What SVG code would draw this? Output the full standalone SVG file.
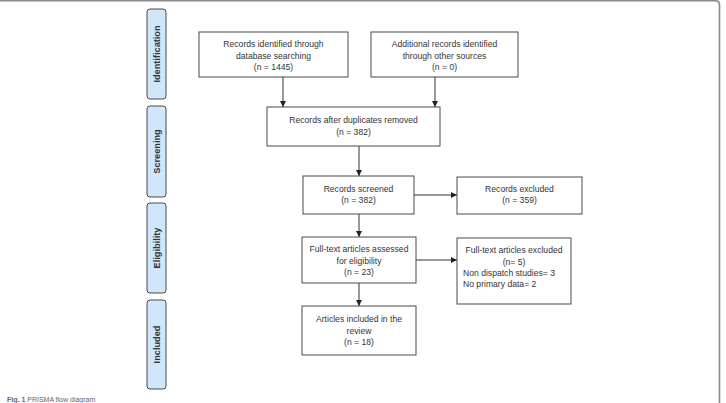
<svg xmlns="http://www.w3.org/2000/svg" width="726" height="403" viewBox="0 0 726 403">
<style>
  .box { fill: #ffffff; stroke: #4a4a4a; stroke-width: 1; }
  .side { fill: #cfe6fb; stroke: #4a4a4a; stroke-width: 1; }
  .t { font-family: "Liberation Sans", Arial, sans-serif; font-size: 8.6px; fill: #333333; text-anchor: middle; }
  .tl { font-family: "Liberation Sans", Arial, sans-serif; font-size: 8.6px; fill: #333333; text-anchor: start; }
  .st { font-family: "Liberation Sans", Arial, sans-serif; font-size: 9.2px; font-weight: bold; fill: #333333; text-anchor: middle; }
  .conn { stroke: #333333; stroke-width: 1; fill: none; marker-end: url(#arr); }
  .cap { font-family: "Liberation Sans", Arial, sans-serif; font-size: 7px; fill: #666666; }
</style>
<defs>
  <marker id="arr" viewBox="0 0 6 6" refX="6" refY="3" markerWidth="6" markerHeight="6" markerUnits="userSpaceOnUse" orient="auto">
    <path d="M0,0 L6,3 L0,6 z" fill="#222222"/>
  </marker>
</defs>
<rect width="726" height="403" fill="#ffffff"/>
<path d="M0,0.7 H715 Q719.5,0.7 719.5,5 V403" fill="none" stroke="#8a8a8a" stroke-width="1.6"/>

<g id="side-identification">
  <rect class="side" x="147" y="9" width="19" height="90" rx="3"/>
  <text class="st" transform="translate(159.8,54) rotate(-90)">Identification</text>
</g>
<g id="side-screening">
  <rect class="side" x="147" y="106" width="19" height="91" rx="3"/>
  <text class="st" transform="translate(159.8,151.5) rotate(-90)">Screening</text>
</g>
<g id="side-eligibility">
  <rect class="side" x="147" y="203" width="19" height="90" rx="3"/>
  <text class="st" transform="translate(159.8,248) rotate(-90)">Eligibility</text>
</g>
<g id="side-included">
  <rect class="side" x="147" y="300" width="19" height="89" rx="3"/>
  <text class="st" transform="translate(159.8,344.5) rotate(-90)">Included</text>
</g>

<g id="connectors">
  <line class="conn" x1="283" y1="77" x2="283" y2="107"/>
  <line class="conn" x1="435" y1="77" x2="435" y2="107"/>
  <line class="conn" x1="359" y1="146" x2="359" y2="176"/>
  <line class="conn" x1="414" y1="195" x2="457" y2="195"/>
  <line class="conn" x1="359" y1="214" x2="359" y2="237"/>
  <line class="conn" x1="416" y1="260" x2="457" y2="260"/>
  <line class="conn" x1="359" y1="283" x2="359" y2="306"/>
</g>

<g id="n-db">
  <rect class="box" x="199" y="32" width="149" height="45"/>
  <text class="t" x="273.5" y="47">Records identified through</text>
  <text class="t" x="273.5" y="58.5">database searching</text>
  <text class="t" x="273.5" y="70">(n = 1445)</text>
</g>
<g id="n-other">
  <rect class="box" x="371" y="32" width="147" height="45"/>
  <text class="t" x="444.5" y="47">Additional records identified</text>
  <text class="t" x="444.5" y="58.5">through other sources</text>
  <text class="t" x="444.5" y="70">(n = 0)</text>
</g>
<g id="n-dup">
  <rect class="box" x="267" y="107" width="173" height="39"/>
  <text class="t" x="353.5" y="123">Records after duplicates removed</text>
  <text class="t" x="353.5" y="134.5">(n = 382)</text>
</g>
<g id="n-screened">
  <rect class="box" x="303" y="176" width="111" height="38"/>
  <text class="t" x="358.5" y="191.5">Records screened</text>
  <text class="t" x="358.5" y="203">(n = 382)</text>
</g>
<g id="n-excluded">
  <rect class="box" x="457" y="177" width="125" height="37"/>
  <text class="t" x="519.5" y="191.5">Records excluded</text>
  <text class="t" x="519.5" y="203">(n = 359)</text>
</g>
<g id="n-fulltext">
  <rect class="box" x="302" y="237" width="114" height="46"/>
  <text class="t" x="359" y="252">Full-text articles assessed</text>
  <text class="t" x="359" y="263.5">for eligibility</text>
  <text class="t" x="359" y="275">(n = 23)</text>
</g>
<g id="n-ftexcluded">
  <rect class="box" x="457" y="238" width="114" height="66"/>
  <text class="t" x="514" y="253">Full-text articles excluded</text>
  <text class="t" x="514" y="264.5">(n= 5)</text>
  <text class="tl" x="463" y="276">Non dispatch studies= 3</text>
  <text class="tl" x="463" y="286.5">No primary data= 2</text>
</g>
<g id="n-included">
  <rect class="box" x="302" y="306" width="114" height="49"/>
  <text class="t" x="359" y="322">Articles included in the</text>
  <text class="t" x="359" y="333.5">review</text>
  <text class="t" x="359" y="345">(n = 18)</text>
</g>

<text class="cap" x="7" y="401.5"><tspan font-weight="bold">Fig. 1</tspan> PRISMA flow diagram</text>
</svg>
